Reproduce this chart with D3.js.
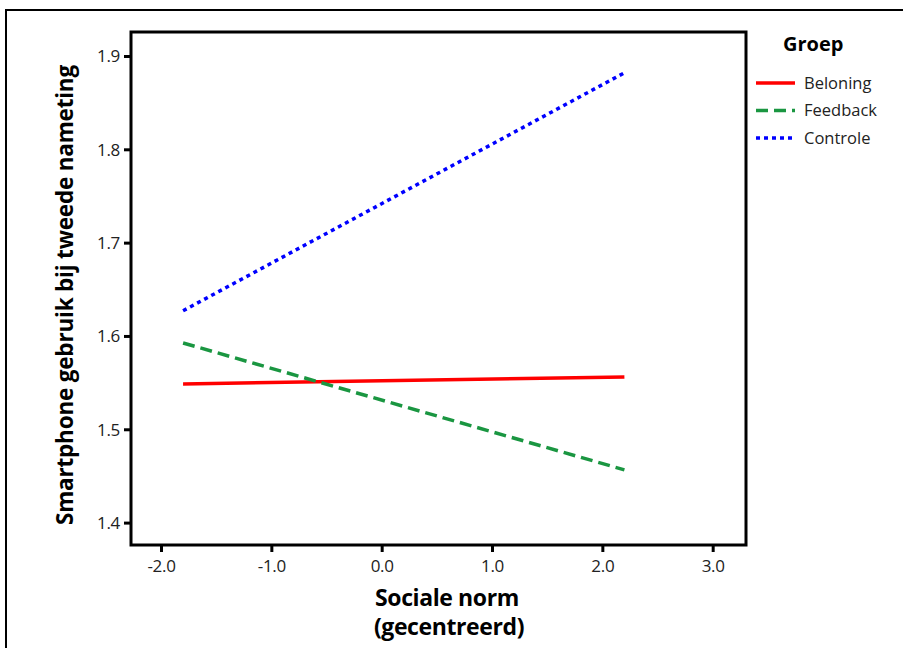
<!DOCTYPE html>
<html>
<head>
<meta charset="utf-8">
<script src="https://cdn.jsdelivr.net/npm/d3@7"></script>
<style>
  body { margin: 0; background: #fff; }
  svg text { font-family: "Open Sans", "DejaVu Sans", sans-serif; }
</style>
</head>
<body>
<div id="chart"></div>
<script>
// data
const groups = ["Beloning", "Feedback", "Controle"];
const colors = ["#ff0000", "#1a9641", "#0000ff"];
const dashes = [null, "12,6", "4,4"];
const xRange = [-1.8, 2.2];
const startValues = [1.5486, 1.5925, 1.627];
const endValues = [1.556, 1.4565, 1.882];
const xTicks = [-2, -1, 0, 1, 2, 3];
const yTicks = [1.4, 1.5, 1.6, 1.7, 1.8, 1.9];

const width = 903, height = 648;
const plot = { left: 131, top: 32, right: 746, bottom: 545 };

const svg = d3.select("#chart").append("svg")
    .attr("width", width)
    .attr("height", height);

// outer frame
svg.append("rect")
    .attr("x", 6).attr("y", 10)
    .attr("width", 1000).attr("height", 1000)
    .attr("fill", "none")
    .attr("stroke", "#000")
    .attr("stroke-width", 2);

const x = d3.scaleLinear().domain([-2.272, 3.302]).range([plot.left, plot.right]);
const y = d3.scaleLinear().domain([1.376, 1.9257]).range([plot.bottom, plot.top]);

// plain hyphen for negatives, as in the original
const fmt = d => d3.format(".1f")(d).replace("\u2212", "-");

// axes
const xAxis = svg.append("g")
    .attr("transform", `translate(0,${plot.bottom})`)
    .call(d3.axisBottom(x).tickValues(xTicks).tickFormat(fmt).tickSize(7).tickSizeOuter(0));
const yAxis = svg.append("g")
    .attr("transform", `translate(${plot.left},0)`)
    .call(d3.axisLeft(y).tickValues(yTicks).tickFormat(fmt).tickSize(7).tickSizeOuter(0));

[xAxis, yAxis].forEach(g => {
    g.select(".domain").remove();
    g.selectAll(".tick line").attr("stroke", "#000").attr("stroke-width", 3);
    g.selectAll(".tick text")
        .attr("fill", "#222")
        .style("font-size", "17px")
        .attr("letter-spacing", "-0.3");
});
xAxis.selectAll(".tick text").attr("dy", "1.0em");
yAxis.selectAll(".tick text").attr("dx", "-1px").attr("dy", "0.35em");

// plot frame
svg.append("rect")
    .attr("x", plot.left).attr("y", plot.top)
    .attr("width", plot.right - plot.left)
    .attr("height", plot.bottom - plot.top)
    .attr("fill", "none")
    .attr("stroke", "#000")
    .attr("stroke-width", 3);

// lines
const line = d3.line().x(d => x(d[0])).y(d => y(d[1]));
groups.forEach((g, i) => {
    svg.append("path")
        .datum([[xRange[0], startValues[i]], [xRange[1], endValues[i]]])
        .attr("d", line)
        .attr("fill", "none")
        .attr("stroke", colors[i])
        .attr("stroke-width", 3.5)
        .attr("stroke-dasharray", dashes[i]);
});

// axis titles
svg.append("text")
    .attr("x", 447).attr("y", 606)
    .attr("text-anchor", "middle")
    .style("font-size", "23px").style("font-weight", "bold")
    .attr("letter-spacing", "-0.4")
    .text("Sociale norm");
svg.append("text")
    .attr("x", 449).attr("y", 635)
    .attr("text-anchor", "middle")
    .style("font-size", "23px").style("font-weight", "bold")
    .attr("letter-spacing", "-0.4")
    .text("(gecentreerd)");
svg.append("text")
    .attr("transform", "translate(73,295) rotate(-90)")
    .attr("text-anchor", "middle")
    .style("font-size", "22.5px").style("font-weight", "bold")
    .attr("letter-spacing", "-0.2")
    .text("Smartphone gebruik bij tweede nameting");

// legend
const legend = svg.append("g");
legend.append("text")
    .attr("x", 783).attr("y", 51)
    .style("font-size", "20px").style("font-weight", "bold")
    .text("Groep");
const item = legend.selectAll("g.item")
    .data(groups)
    .enter()
    .append("g")
    .attr("class", "item")
    .attr("transform", (d, i) => `translate(0,${83 + i * 27.5})`);
item.append("line")
    .attr("x1", 756).attr("x2", 795)
    .attr("stroke", (d, i) => colors[i])
    .attr("stroke-width", 3.5)
    .attr("stroke-dasharray", (d, i) => dashes[i]);
item.append("text")
    .attr("x", 804).attr("dy", "0.35em")
    .style("font-size", "16.5px")
    .attr("fill", "#222")
    .text(d => d);
</script>
</body>
</html>
